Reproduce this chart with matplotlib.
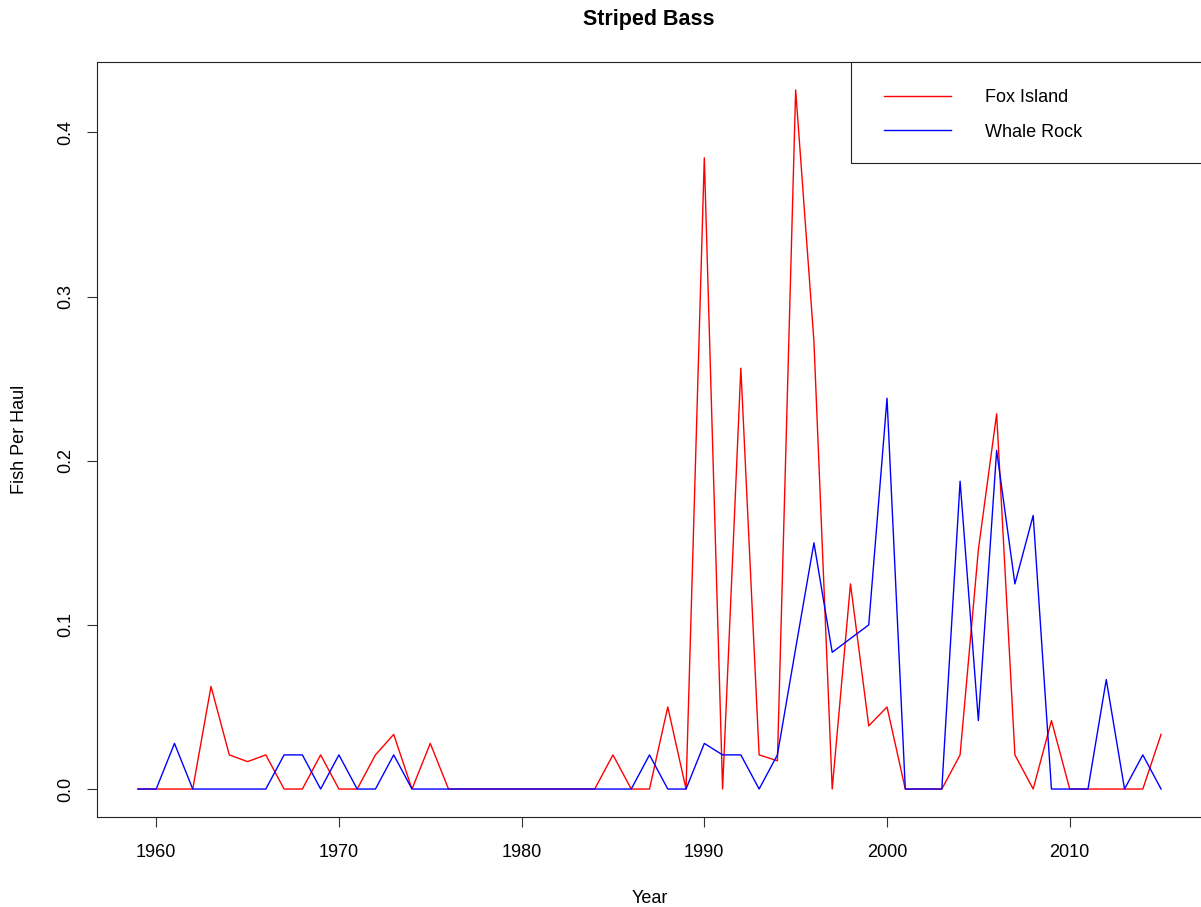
import matplotlib
matplotlib.use("Agg")
import matplotlib.pyplot as plt
from matplotlib.patches import Rectangle

plt.rcParams['font.family'] = ['Liberation Sans', 'DejaVu Sans']

years = list(range(1959, 2016))

fox_island = [
    0, 0, 0, 0, 0.0625, 0.0208, 0.0167, 0.0208, 0, 0,        # 1959-1968
    0.0208, 0, 0, 0.0208, 0.0333, 0, 0.0278, 0, 0, 0,        # 1969-1978
    0, 0, 0, 0, 0, 0, 0.0208, 0, 0, 0.05,                    # 1979-1988
    0, 0.3846, 0, 0.2564, 0.0208, 0.0172, 0.4259, 0.2727, 0, 0.125,  # 1989-1998
    0.0385, 0.05, 0, 0, 0, 0.0208, 0.1458, 0.2286, 0.0208, 0,  # 1999-2008
    0.0417, 0, 0, 0, 0, 0, 0.0333,                           # 2009-2015
]

whale_rock = [
    0, 0, 0.0278, 0, 0, 0, 0, 0, 0.0208, 0.0208,             # 1959-1968
    0, 0.0208, 0, 0, 0.0208, 0, 0, 0, 0, 0,                  # 1969-1978
    0, 0, 0, 0, 0, 0, 0, 0, 0.0208, 0,                       # 1979-1988
    0, 0.0278, 0.0208, 0.0208, 0, 0.0208, 0.0857, 0.15, 0.0833, 0.0917,  # 1989-1998
    0.1, 0.2381, 0, 0, 0, 0.1875, 0.0417, 0.2063, 0.125, 0.1667,  # 1999-2008
    0, 0, 0, 0.0667, 0, 0.0208, 0,                           # 2009-2015
]

x_ticks = [1960, 1970, 1980, 1990, 2000, 2010]
y_ticks = [0.0, 0.1, 0.2, 0.3, 0.4]
y_tick_labels = ["0.0", "0.1", "0.2", "0.3", "0.4"]
series_names = ["Fox Island", "Whale Rock"]

W, H = 1201, 907
fig = plt.figure(figsize=(W / 100, H / 100), dpi=100)
left, right, top, bottom = 97, 1202, 62, 817
ax = fig.add_axes([left / W, (H - bottom) / H, (right - left) / W, (bottom - top) / H])

ax.plot(years, fox_island, color="#FF0000", lw=1.0, label=series_names[0])
ax.plot(years, whale_rock, color="#0000FF", lw=1.0, label=series_names[1])

xr = max(years) - min(years)
ax.set_xlim(min(years) - 0.04 * xr, max(years) + 0.04 * xr)
ymax = max(max(fox_island), max(whale_rock))
ax.set_ylim(-0.04 * ymax, ymax * 1.04)

ax.set_xticks(x_ticks)
ax.set_xticklabels([str(v) for v in x_ticks])
ax.set_yticks(y_ticks)
ax.set_yticklabels(y_tick_labels, rotation=90, va="center")
ax.tick_params(axis="both", direction="out", length=7.5, width=0.8, color="#333333",
               labelsize=13)
ax.tick_params(axis="x", pad=12)
ax.tick_params(axis="y", pad=9)
for s in ax.spines.values():
    s.set_linewidth(0.8)
    s.set_color("#222222")
    s.set_clip_on(False)

# Legend (R-style box at top right): frame drawn separately, entries via legend
frame = Rectangle((851 / W, (H - 163) / H), (1210 - 851) / W, (163 - 62) / H,
                  transform=fig.transFigure, facecolor="white",
                  edgecolor="#222222", linewidth=0.8, zorder=4, clip_on=False)
ax.add_patch(frame)
leg = ax.legend(loc="upper left", bbox_to_anchor=(884 / W, 1 - 89 / H),
                bbox_transform=fig.transFigure, borderaxespad=0.0, borderpad=0.0,
                fontsize=13, handlelength=3.7, handletextpad=1.9,
                labelspacing=0.98, frameon=False)
leg.set_zorder(6)

fig.text(649 / W, 1 - 25 / H, "Striped Bass", ha="center", va="baseline",
         fontsize=15.5, fontweight="bold")
fig.text(650 / W, 4 / H, "Year", ha="center", va="baseline", fontsize=13)
fig.text(20 / W, 0.5 * ((H - top) + (H - bottom)) / H, "Fish Per Haul",
         rotation=90, ha="center", va="center", fontsize=13)

fig.savefig("out.png", dpi=100)
